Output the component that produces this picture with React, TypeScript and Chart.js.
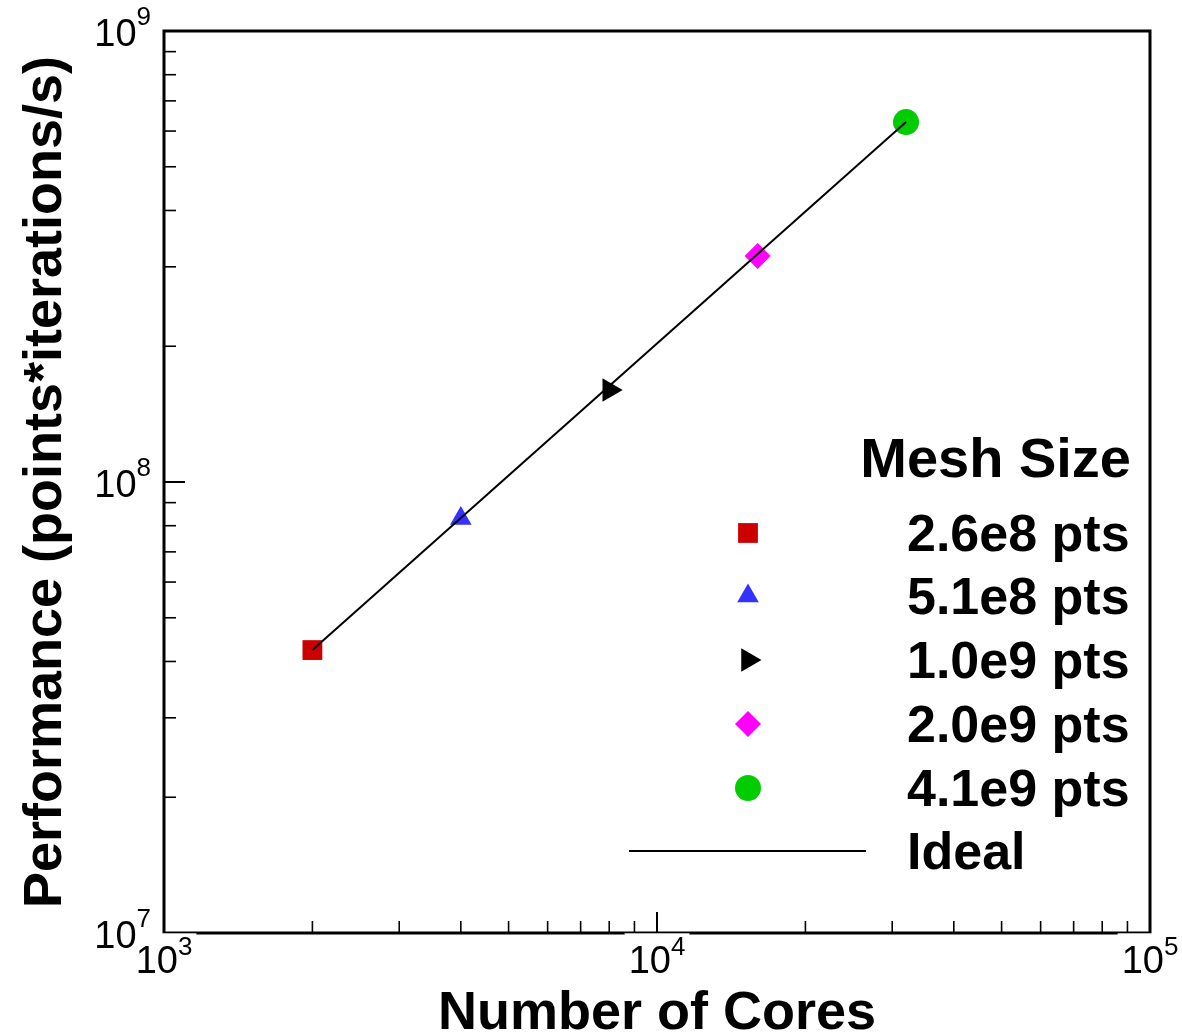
import React, { useEffect, useRef } from 'react';
import { Chart, registerables } from 'chart.js';
import { drawPoint } from 'chart.js/helpers';

Chart.register(...registerables);

// ---- data ----
const seriesLabels = ['2.6e8 pts', '5.1e8 pts', '1.0e9 pts', '2.0e9 pts', '4.1e9 pts'];
const seriesCores = [2000, 4000, 8000, 16000, 32000];
const seriesPerf = [4.24e7, 8.3e7, 1.6e8, 3.17e8, 6.28e8];
const seriesColors = ['#cc0000', '#3333ff', '#000000', '#ff00ff', '#00cc00'];
const seriesShapes = ['rect', 'triangle', 'triangle', 'rectRot', 'circle'];
const seriesRotation = [0, 0, 90, 0, 0];
const seriesRadius = [14, 12.5, 13.5, 13, 13];

const idealCores = [2000, 32000];
const idealPerf = [4.24e7, 6.28e8];
const idealLabel = 'Ideal';

const xMajorTicks = [1e3, 1e4, 1e5];
const xTickExp = ['3', '4', '5'];
const yMajorTicks = [1e7, 1e8, 1e9];
const yTickExp = ['7', '8', '9'];

const legendTitle = 'Mesh Size';
const xTitle = 'Number of Cores';
const yTitle = 'Performance (points*iterations/s)';

const FONT = '"Liberation Sans", Arial, Helvetica, sans-serif';

const decorPlugin = {
  id: 'decor',
  beforeDraw(chart: any) {
    const ctx = chart.ctx;
    ctx.save();
    ctx.fillStyle = '#ffffff';
    ctx.fillRect(0, 0, chart.width, chart.height);
    ctx.restore();
  },
  afterDraw(chart: any) {
    const ctx: CanvasRenderingContext2D = chart.ctx;
    const area = chart.chartArea;
    const xs = chart.scales.x;
    const ys = chart.scales.y;
    ctx.save();
    ctx.strokeStyle = '#000';
    ctx.fillStyle = '#000';

    // minor + major ticks (inward)
    const tickSet = (scale: any, horizontal: boolean) => {
      const d0 = Math.floor(Math.log10(scale.min));
      const d1 = Math.ceil(Math.log10(scale.max));
      for (let d = d0; d < d1; d++) {
        for (let m = 1; m <= 9; m++) {
          const v = m * Math.pow(10, d);
          if (v < scale.min || v > scale.max) continue;
          const p = scale.getPixelForValue(v);
          const len = m === 1 ? 21 : 12;
          ctx.lineWidth = m === 1 ? 2 : 1.6;
          ctx.beginPath();
          if (horizontal) {
            ctx.moveTo(p, area.bottom);
            ctx.lineTo(p, area.bottom - len);
          } else {
            ctx.moveTo(area.left, p);
            ctx.lineTo(area.left + len, p);
          }
          ctx.stroke();
        }
      }
    };
    tickSet(xs, true);
    tickSet(ys, false);

    // frame
    ctx.lineWidth = 3;
    ctx.strokeRect(area.left, area.top, area.right - area.left, area.bottom - area.top);

    // x tick labels
    const baseFont = `38px ${FONT}`;
    const supFont = `26px ${FONT}`;
    xMajorTicks.forEach((v, i) => {
      const p = xs.getPixelForValue(v);
      ctx.font = baseFont;
      const w1 = ctx.measureText('10').width;
      ctx.font = supFont;
      const w2 = ctx.measureText(xTickExp[i]).width;
      const start = p - (w1 + w2) / 2;
      ctx.fillStyle = '#fff';
      ctx.fillRect(start - 4, area.bottom + 0.3, w1 + w2 + 8, 44);
      ctx.fillStyle = '#000';
      ctx.textAlign = 'left';
      ctx.textBaseline = 'alphabetic';
      ctx.font = baseFont;
      ctx.fillText('10', start, area.bottom + 40);
      ctx.font = supFont;
      ctx.fillText(xTickExp[i], start + w1, area.bottom + 22);
    });

    // y tick labels
    yMajorTicks.forEach((v, i) => {
      const p = ys.getPixelForValue(v);
      ctx.font = supFont;
      const w2 = ctx.measureText(yTickExp[i]).width;
      ctx.font = baseFont;
      const w1 = ctx.measureText('10').width;
      const right = area.left - 13;
      ctx.textAlign = 'left';
      ctx.textBaseline = 'alphabetic';
      ctx.fillText('10', right - w2 - w1, p + 15);
      ctx.font = supFont;
      ctx.fillText(yTickExp[i], right - w2, p - 6);
    });

    // axis titles
    ctx.font = `bold 54px ${FONT}`;
    ctx.textAlign = 'center';
    ctx.textBaseline = 'alphabetic';
    ctx.fillText(xTitle, (area.left + area.right) / 2, 1029);
    ctx.save();
    ctx.translate(61, (area.top + area.bottom) / 2);
    ctx.rotate(-Math.PI / 2);
    ctx.fillText(yTitle, 0, 0);
    ctx.restore();

    // legend
    ctx.font = `bold 56px ${FONT}`;
    ctx.textAlign = 'right';
    ctx.fillText(legendTitle, 1131, 477);
    const rowY = [533, 596, 660, 724, 788];
    ctx.font = `bold 52px ${FONT}`;
    ctx.textAlign = 'left';
    seriesLabels.forEach((lab, i) => {
      ctx.fillStyle = seriesColors[i];
      drawPoint(ctx, {
        pointStyle: seriesShapes[i] as any,
        rotation: seriesRotation[i],
        radius: seriesRadius[i],
        borderWidth: 0,
      } as any, 748, rowY[i]);
      ctx.fillStyle = '#000';
      ctx.fillText(lab, 907, rowY[i] + 18);
    });
    ctx.strokeStyle = '#000';
    ctx.lineWidth = 2;
    ctx.beginPath();
    ctx.moveTo(629, 851);
    ctx.lineTo(866, 851);
    ctx.stroke();
    ctx.fillStyle = '#000';
    ctx.fillText(idealLabel, 907, 851 + 18);

    ctx.restore();
  },
};

export default function App() {
  const ref = useRef<HTMLCanvasElement | null>(null);
  useEffect(() => {
    if (!ref.current) return;
    const datasets: any[] = [
      {
        label: idealLabel,
        data: idealCores.map((x, i) => ({ x, y: idealPerf[i] })),
        showLine: true,
        borderColor: '#000',
        borderWidth: 2,
        pointRadius: 0,
        fill: false,
      },
      ...seriesLabels.map((lab, i) => ({
        label: lab,
        data: [{ x: seriesCores[i], y: seriesPerf[i] }],
        showLine: false,
        pointStyle: seriesShapes[i],
        rotation: seriesRotation[i],
        pointRadius: seriesRadius[i],
        pointHoverRadius: seriesRadius[i],
        backgroundColor: seriesColors[i],
        borderColor: seriesColors[i],
        pointBorderWidth: 0,
      })),
    ];
    const chart = new Chart(ref.current, {
      type: 'scatter',
      data: { datasets },
      options: {
        animation: false,
        responsive: false,
        maintainAspectRatio: false,
        devicePixelRatio: 1,
        layout: { padding: { left: 164, top: 31, right: 32, bottom: 99 } },
        plugins: { legend: { display: false }, tooltip: { enabled: false } },
        scales: {
          x: { type: 'logarithmic', min: 1e3, max: 1e5, display: false },
          y: { type: 'logarithmic', min: 1e7, max: 1e9, display: false },
        },
      },
      plugins: [decorPlugin],
    } as any);
    return () => chart.destroy();
  }, []);
  return (
    <div style={{ position: 'absolute', left: 0, top: 0, width: 1182, height: 1032, background: '#fff' }}>
      <canvas ref={ref} width={1182} height={1032} style={{ display: 'block' }} />
    </div>
  );
}
